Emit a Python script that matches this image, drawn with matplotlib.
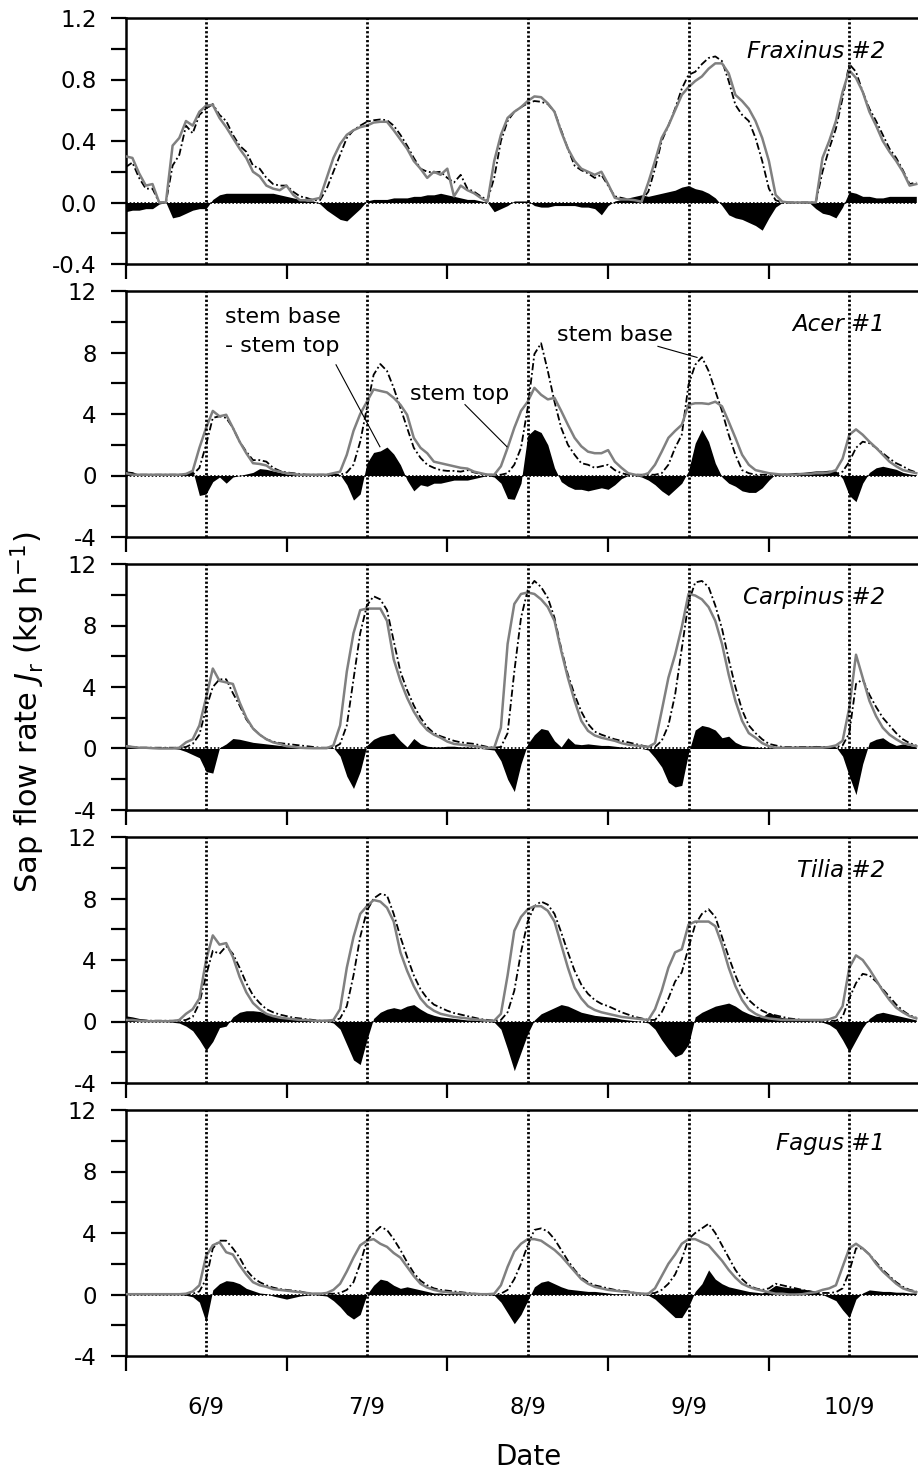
import numpy as np
import matplotlib
matplotlib.use("Agg")
import matplotlib.pyplot as plt
from matplotlib.ticker import FixedLocator, FormatStrFormatter

plt.rcParams["font.family"] = ["DejaVu Sans"]
plt.rcParams["axes.unicode_minus"] = False

# hourly readings, hour 0 = 6/9 00:00
hours = np.arange(119)
day_labels = ["6/9", "7/9", "8/9", "9/9", "10/9"]

frax_top = [
    0.30, 0.29, 0.19, 0.11, 0.12, 0.00, 0.00, 0.37, 0.42, 0.53, 0.50, 0.59,
    0.63, 0.635, 0.55, 0.49, 0.42, 0.35, 0.29, 0.20, 0.17, 0.11, 0.09, 0.08,
    0.11, 0.05, 0.015, 0.015, 0.02, 0.03, 0.16, 0.29, 0.38, 0.44, 0.47, 0.49,
    0.50, 0.52, 0.525, 0.525, 0.47, 0.41, 0.35, 0.27, 0.22, 0.16, 0.20, 0.18,
    0.22, 0.04, 0.11, 0.08, 0.06, 0.03, 0.005, 0.27, 0.44, 0.55, 0.59, 0.62,
    0.66, 0.69, 0.685, 0.645, 0.59, 0.46, 0.35, 0.27, 0.22, 0.20, 0.18, 0.20,
    0.12, 0.03, 0.02, 0.02, 0.015, 0.005, 0.13, 0.27, 0.42, 0.50, 0.60, 0.70,
    0.75, 0.79, 0.82, 0.87, 0.905, 0.905, 0.84, 0.70, 0.66, 0.61, 0.53, 0.42,
    0.27, 0.05, 0.005, 0.0, 0.0, 0.0, 0.0, 0.0, 0.29, 0.40, 0.53, 0.72,
    0.86, 0.81, 0.72, 0.59, 0.50, 0.40, 0.33, 0.27, 0.20, 0.11, 0.12,
]
frax_base = [
    0.23, 0.26, 0.16, 0.09, 0.09, 0.00, 0.00, 0.24, 0.31, 0.50, 0.45, 0.57,
    0.61, 0.64, 0.57, 0.53, 0.44, 0.37, 0.33, 0.24, 0.22, 0.16, 0.12, 0.11,
    0.11, 0.07, 0.04, 0.03, 0.015, 0.015, 0.09, 0.20, 0.31, 0.42, 0.47, 0.50,
    0.525, 0.535, 0.54, 0.535, 0.50, 0.44, 0.37, 0.29, 0.22, 0.20, 0.195, 0.20,
    0.16, 0.13, 0.18, 0.09, 0.07, 0.04, 0.015, 0.16, 0.40, 0.53, 0.59, 0.62,
    0.645, 0.66, 0.655, 0.64, 0.59, 0.47, 0.35, 0.24, 0.21, 0.19, 0.16, 0.18,
    0.11, 0.04, 0.03, 0.02, 0.015, 0.015, 0.07, 0.22, 0.40, 0.50, 0.61, 0.74,
    0.83, 0.85, 0.90, 0.94, 0.95, 0.92, 0.79, 0.635, 0.57, 0.53, 0.42, 0.27,
    0.09, 0.015, 0.0, 0.0, 0.0, 0.0, 0.0, 0.0, 0.20, 0.35, 0.48, 0.68,
    0.90, 0.85, 0.72, 0.61, 0.53, 0.44, 0.35, 0.29, 0.21, 0.12, 0.13,
]
frax_diff = [
    -0.06, -0.05, -0.05, -0.04, -0.04, -0.01, 0.0, -0.10, -0.09, -0.07, -0.05, -0.04,
    -0.04, 0.02, 0.05, 0.06, 0.06, 0.06, 0.06, 0.06, 0.06, 0.06, 0.06, 0.05,
    0.04, 0.03, 0.02, 0.01, 0.01, -0.01, -0.05, -0.08, -0.11, -0.12, -0.08, -0.04,
    0.01, 0.02, 0.02, 0.02, 0.03, 0.03, 0.03, 0.04, 0.04, 0.05, 0.05, 0.06,
    0.05, 0.04, 0.03, 0.02, 0.02, 0.01, 0.0, -0.06, -0.04, -0.02, 0.01, 0.01,
    0.01, -0.02, -0.03, -0.03, -0.02, -0.02, -0.02, -0.02, -0.03, -0.03, -0.04, -0.08,
    -0.02, 0.01, 0.02, 0.03, 0.04, 0.05, 0.04, 0.05, 0.06, 0.07, 0.08, 0.10,
    0.11, 0.09, 0.08, 0.06, 0.03, -0.02, -0.08, -0.10, -0.11, -0.13, -0.15, -0.18,
    -0.10, -0.03, 0.0, 0.0, 0.0, 0.0, 0.0, -0.04, -0.07, -0.08, -0.10, -0.03,
    0.07, 0.06, 0.04, 0.04, 0.03, 0.03, 0.04, 0.04, 0.04, 0.04, 0.04,
]

acer_top = [
    0.15, 0.05, 0.05, 0.05, 0.05, 0.05, 0.05, 0.05, 0.05, 0.10, 0.30, 1.80,
    3.10, 4.20, 3.85, 3.95, 3.10, 2.20, 1.45, 0.80, 0.75, 0.65, 0.35, 0.25,
    0.15, 0.10, 0.05, 0.05, 0.05, 0.05, 0.05, 0.15, 0.25, 1.35, 2.90, 4.00,
    4.80, 5.60, 5.50, 5.40, 5.05, 4.60, 3.95, 2.45, 1.80, 1.45, 0.90, 0.80,
    0.70, 0.60, 0.50, 0.45, 0.25, 0.15, 0.05, 0.05, 0.60, 1.80, 3.10, 4.20,
    4.80, 5.70, 5.25, 4.95, 5.05, 4.20, 3.30, 2.45, 1.90, 1.55, 1.45, 1.45,
    1.65, 0.90, 0.50, 0.15, 0.05, 0.00, 0.15, 0.70, 1.55, 2.45, 2.90, 3.30,
    4.60, 4.70, 4.70, 4.65, 4.80, 4.50, 3.50, 2.45, 1.35, 0.70, 0.35, 0.25,
    0.15, 0.10, 0.05, 0.05, 0.05, 0.10, 0.10, 0.15, 0.15, 0.20, 0.35, 1.10,
    2.65, 3.00, 2.65, 2.20, 1.80, 1.35, 0.90, 0.60, 0.35, 0.25, 0.15,
]
acer_base = [
    0.05, 0.05, 0.05, 0.05, 0.05, 0.05, 0.05, 0.05, 0.05, 0.05, 0.05, 0.50,
    2.00, 3.75, 3.85, 3.75, 3.10, 2.20, 1.55, 1.00, 1.00, 0.90, 0.50, 0.30,
    0.20, 0.15, 0.10, 0.05, 0.05, 0.05, 0.05, 0.05, 0.05, 0.20, 0.70, 2.20,
    4.40, 6.55, 7.25, 6.80, 5.70, 4.40, 3.10, 1.80, 1.15, 0.70, 0.50, 0.35,
    0.30, 0.30, 0.25, 0.35, 0.20, 0.10, 0.05, 0.05, 0.05, 0.15, 0.70, 1.80,
    4.40, 7.90, 8.60, 6.80, 4.80, 3.10, 2.00, 1.35, 0.80, 0.70, 0.50, 0.60,
    0.70, 0.35, 0.15, 0.05, 0.05, 0.05, 0.05, 0.05, 0.15, 0.70, 1.80, 2.65,
    5.90, 7.20, 7.70, 6.80, 5.50, 4.20, 2.65, 1.35, 0.35, 0.15, 0.05, 0.05,
    0.05, 0.05, 0.05, 0.05, 0.05, 0.05, 0.05, 0.05, 0.05, 0.05, 0.10, 0.25,
    0.90, 1.80, 2.20, 2.10, 1.80, 1.45, 1.10, 0.80, 0.60, 0.35, 0.20,
]
acer_diff = [
    0.30, 0.25, 0.05, 0.0, 0.0, 0.0, 0.02, 0.02, 0.05, 0.15, 0.35, -1.30,
    -1.20, -0.40, -0.10, -0.50, -0.10, 0.0, 0.10, 0.20, 0.45, 0.40, 0.30, 0.20,
    0.10, 0.05, 0.02, 0.02, 0.02, 0.02, 0.02, 0.20, 0.05, -0.60, -1.60, -1.20,
    0.80, 1.50, 1.60, 1.85, 1.40, 0.70, -0.30, -1.00, -0.60, -0.70, -0.50, -0.50,
    -0.40, -0.30, -0.30, -0.30, -0.20, -0.10, 0.0, -0.10, -0.50, -1.50, -1.55, -0.50,
    2.60, 3.00, 2.80, 2.00, 0.50, -0.40, -0.70, -0.90, -0.90, -1.00, -0.90, -0.80,
    -0.90, -0.60, -0.20, 0.0, 0.0, -0.10, -0.30, -0.60, -1.00, -1.30, -0.90, -0.50,
    0.30, 2.10, 3.00, 2.20, 0.80, -0.10, -0.50, -0.70, -1.00, -1.10, -1.10, -0.80,
    -0.30, 0.10, 0.15, 0.15, 0.20, 0.20, 0.25, 0.30, 0.30, 0.35, 0.30, -0.20,
    -1.30, -1.70, -0.50, 0.20, 0.50, 0.60, 0.50, 0.40, 0.20, 0.10, 0.05,
]

carp_top = [
    0.15, 0.10, 0.05, 0.05, 0.02, 0.0, 0.0, 0.0, 0.05, 0.40, 0.60, 1.50,
    3.30, 5.20, 4.40, 4.30, 4.20, 3.00, 2.00, 1.30, 0.90, 0.60, 0.40, 0.30,
    0.15, 0.10, 0.05, 0.03, 0.02, 0.02, 0.02, 0.20, 1.50, 5.00, 7.50, 9.00,
    9.10, 9.10, 9.10, 8.30, 5.80, 4.40, 3.30, 2.40, 1.70, 1.20, 0.90, 0.70,
    0.45, 0.30, 0.25, 0.20, 0.15, 0.10, 0.05, 0.05, 1.35, 6.80, 9.40, 10.05,
    10.15, 10.05, 9.70, 9.20, 8.30, 6.35, 4.60, 3.10, 1.80, 1.15, 0.85, 0.70,
    0.60, 0.50, 0.35, 0.25, 0.20, 0.15, 0.10, 0.35, 2.45, 4.60, 6.10, 7.90,
    10.05, 9.95, 9.70, 9.20, 8.30, 6.80, 4.80, 3.10, 1.80, 1.00, 0.70, 0.35,
    0.15, 0.05, 0.05, 0.05, 0.05, 0.05, 0.05, 0.05, 0.05, 0.10, 0.20, 0.50,
    2.65, 6.10, 4.60, 3.10, 2.10, 1.35, 0.90, 0.60, 0.35, 0.25, 0.15,
]
carp_base = [
    0.15, 0.10, 0.05, 0.05, 0.05, 0.05, 0.05, 0.05, 0.05, 0.10, 0.30, 0.90,
    2.60, 4.00, 4.50, 4.50, 3.60, 2.80, 1.90, 1.30, 0.90, 0.60, 0.45, 0.35,
    0.30, 0.25, 0.20, 0.15, 0.10, 0.05, 0.05, 0.05, 0.30, 1.50, 4.50, 7.50,
    9.30, 9.90, 9.70, 9.00, 7.00, 5.00, 3.80, 2.80, 2.00, 1.40, 1.00, 0.80,
    0.65, 0.50, 0.40, 0.35, 0.30, 0.20, 0.10, 0.05, 0.10, 1.00, 5.00, 8.50,
    10.30, 10.90, 10.50, 9.80, 8.50, 6.50, 4.80, 3.50, 2.40, 1.60, 1.10, 0.90,
    0.75, 0.60, 0.50, 0.40, 0.30, 0.20, 0.10, 0.10, 0.50, 1.50, 3.50, 6.50,
    9.50, 10.80, 10.90, 10.50, 9.30, 7.80, 5.80, 4.00, 2.50, 1.50, 1.00, 0.60,
    0.30, 0.20, 0.10, 0.10, 0.10, 0.10, 0.10, 0.10, 0.10, 0.10, 0.10, 0.20,
    1.00, 4.20, 4.50, 3.50, 2.70, 2.00, 1.50, 1.00, 0.60, 0.35, 0.20,
]
carp_diff = [
    0.20, 0.10, 0.05, 0.0, 0.0, 0.0, 0.0, 0.0, -0.05, -0.20, -0.40, -0.60,
    -1.50, -1.60, 0.05, 0.30, 0.65, 0.60, 0.50, 0.40, 0.35, 0.30, 0.25, 0.20,
    0.15, 0.10, 0.05, 0.05, 0.05, 0.05, 0.05, 0.05, -0.50, -1.80, -2.60, -1.50,
    0.20, 0.60, 0.80, 0.90, 1.00, 0.50, 0.10, 0.65, 0.30, 0.15, 0.10, 0.10,
    0.15, 0.15, 0.10, 0.10, 0.05, 0.0, -0.05, -0.10, -0.80, -2.00, -2.80, -1.00,
    0.30, 0.90, 1.30, 1.20, 0.50, 0.10, 0.70, 0.30, 0.25, 0.30, 0.25, 0.20,
    0.20, 0.15, 0.10, 0.05, 0.05, 0.0, -0.10, -0.60, -1.20, -2.20, -2.50, -2.40,
    -0.30, 1.20, 1.50, 1.40, 1.20, 0.70, 0.80, 0.40, 0.20, 0.15, 0.10, 0.05,
    0.05, 0.05, 0.05, 0.10, 0.15, 0.15, 0.15, 0.20, 0.15, 0.20, 0.10, -0.50,
    -1.80, -3.00, -1.00, 0.40, 0.60, 0.70, 0.40, 0.20, 0.30, 0.20, 0.10,
]

tilia_top = [
    0.10, 0.10, 0.05, 0.02, 0.02, 0.02, 0.02, 0.02, 0.10, 0.50, 0.80, 1.50,
    4.00, 5.60, 5.00, 5.10, 4.20, 2.90, 1.90, 1.20, 0.80, 0.50, 0.35, 0.25,
    0.20, 0.15, 0.10, 0.10, 0.05, 0.05, 0.05, 0.10, 0.80, 3.50, 5.50, 7.00,
    7.50, 7.90, 7.80, 7.40, 6.50, 4.50, 3.30, 2.30, 1.50, 1.00, 0.70, 0.50,
    0.40, 0.30, 0.25, 0.20, 0.15, 0.10, 0.05, 0.05, 0.50, 3.00, 5.90, 6.80,
    7.30, 7.50, 7.50, 7.20, 6.50, 5.00, 3.50, 2.20, 1.50, 1.00, 0.75, 0.60,
    0.50, 0.40, 0.30, 0.25, 0.20, 0.15, 0.10, 0.80, 2.00, 3.50, 4.50, 4.70,
    6.30, 6.50, 6.50, 6.50, 6.20, 5.00, 3.50, 2.30, 1.40, 0.80, 0.50, 0.30,
    0.20, 0.15, 0.10, 0.10, 0.10, 0.10, 0.10, 0.10, 0.10, 0.15, 0.30, 1.00,
    3.50, 4.30, 4.00, 3.40, 2.70, 2.00, 1.40, 0.90, 0.60, 0.35, 0.20,
]
tilia_base = [
    0.05, 0.05, 0.05, 0.05, 0.05, 0.05, 0.05, 0.05, 0.05, 0.10, 0.30, 1.20,
    3.00, 4.60, 4.40, 4.90, 4.40, 3.50, 2.50, 1.70, 1.20, 0.80, 0.60, 0.45,
    0.35, 0.25, 0.20, 0.15, 0.10, 0.05, 0.05, 0.05, 0.20, 1.00, 3.00, 5.50,
    7.20, 8.00, 8.30, 8.20, 7.00, 5.50, 4.20, 3.00, 2.10, 1.50, 1.10, 0.90,
    0.70, 0.55, 0.45, 0.35, 0.25, 0.15, 0.10, 0.05, 0.10, 0.60, 2.00, 4.50,
    6.50, 7.50, 7.80, 7.60, 7.00, 5.80, 4.50, 3.30, 2.40, 1.80, 1.40, 1.15,
    1.00, 0.80, 0.60, 0.45, 0.30, 0.20, 0.10, 0.10, 0.60, 1.50, 2.60, 3.20,
    4.80, 6.30, 7.00, 7.30, 6.80, 5.50, 4.20, 3.00, 2.00, 1.40, 1.00, 0.70,
    0.50, 0.40, 0.30, 0.20, 0.15, 0.10, 0.10, 0.05, 0.05, 0.05, 0.05, 0.30,
    1.50, 2.50, 3.10, 3.00, 2.60, 2.10, 1.60, 1.10, 0.70, 0.40, 0.25,
]
tilia_diff = [
    0.37, 0.30, 0.20, 0.15, 0.10, 0.05, 0.0, -0.05, -0.10, -0.30, -0.60, -1.20,
    -1.90, -1.30, -0.40, -0.30, 0.30, 0.60, 0.70, 0.70, 0.65, 0.50, 0.45, 0.35,
    0.25, 0.20, 0.15, 0.10, 0.05, 0.05, 0.02, -0.10, -0.50, -1.50, -2.50, -2.80,
    -1.20, 0.20, 0.60, 0.80, 0.90, 0.80, 1.00, 1.10, 0.80, 0.55, 0.40, 0.30,
    0.25, 0.20, 0.15, 0.10, 0.10, 0.05, 0.0, -0.05, -0.50, -1.80, -3.20, -2.00,
    -0.80, 0.10, 0.50, 0.70, 0.90, 1.10, 1.00, 0.80, 0.60, 0.50, 0.40, 0.35,
    0.30, 0.25, 0.15, 0.10, 0.05, 0.0, -0.10, -0.50, -1.20, -1.80, -2.30, -2.10,
    -1.50, 0.30, 0.60, 0.80, 1.00, 1.10, 1.20, 1.00, 0.70, 0.50, 0.35, 0.30,
    0.60, 0.40, 0.25, 0.20, 0.15, 0.10, 0.05, 0.02, -0.05, -0.20, -0.50, -1.20,
    -2.00, -1.20, -0.40, 0.20, 0.50, 0.60, 0.50, 0.40, 0.30, 0.20, 0.10,
]

fagus_top = [
    0.02, 0.02, 0.02, 0.02, 0.02, 0.02, 0.02, 0.02, 0.02, 0.05, 0.20, 0.60,
    2.50, 3.20, 3.40, 2.75, 2.60, 1.90, 1.30, 0.80, 0.60, 0.50, 0.35, 0.30,
    0.25, 0.20, 0.15, 0.10, 0.05, 0.05, 0.10, 0.30, 0.70, 1.50, 2.40, 3.20,
    3.50, 3.60, 3.30, 3.10, 2.70, 2.40, 1.80, 1.20, 0.70, 0.45, 0.30, 0.20,
    0.15, 0.10, 0.10, 0.05, 0.05, 0.02, 0.02, 0.05, 0.60, 1.80, 2.80, 3.30,
    3.60, 3.60, 3.50, 3.20, 2.90, 2.50, 2.00, 1.50, 1.00, 0.70, 0.50, 0.40,
    0.30, 0.25, 0.20, 0.15, 0.10, 0.05, 0.05, 0.40, 1.20, 2.00, 2.60, 3.30,
    3.60, 3.60, 3.40, 3.20, 2.70, 2.20, 1.60, 1.10, 0.70, 0.50, 0.35, 0.25,
    0.15, 0.05, 0.05, 0.0, 0.0, 0.02, 0.10, 0.15, 0.30, 0.40, 0.60, 1.80,
    3.00, 3.30, 3.00, 2.60, 2.00, 1.50, 1.10, 0.70, 0.40, 0.25, 0.15,
]
fagus_base = [
    0.02, 0.02, 0.02, 0.02, 0.02, 0.02, 0.02, 0.02, 0.02, 0.02, 0.05, 0.20,
    1.00, 3.00, 3.50, 3.50, 3.00, 2.40, 1.60, 1.10, 0.80, 0.60, 0.45, 0.35,
    0.30, 0.25, 0.20, 0.10, 0.05, 0.05, 0.05, 0.05, 0.10, 0.30, 0.80, 2.00,
    3.50, 4.00, 4.40, 4.20, 3.60, 2.90, 2.10, 1.40, 0.90, 0.60, 0.40, 0.30,
    0.25, 0.20, 0.15, 0.10, 0.05, 0.02, 0.02, 0.02, 0.05, 0.30, 1.00, 2.00,
    3.20, 4.20, 4.30, 4.10, 3.60, 2.90, 2.20, 1.60, 1.10, 0.80, 0.60, 0.50,
    0.40, 0.30, 0.25, 0.20, 0.10, 0.05, 0.05, 0.10, 0.30, 0.70, 1.30, 2.30,
    3.60, 4.00, 4.30, 4.60, 4.00, 3.20, 2.40, 1.60, 1.00, 0.60, 0.40, 0.30,
    0.40, 0.70, 0.60, 0.50, 0.40, 0.30, 0.20, 0.15, 0.10, 0.10, 0.15, 0.40,
    1.50, 3.00, 3.00, 2.60, 2.10, 1.60, 1.20, 0.80, 0.50, 0.30, 0.20,
]
fagus_diff = [
    0.0, 0.0, 0.0, 0.0, 0.0, 0.0, 0.0, 0.0, 0.0, -0.05, -0.15, -0.50,
    -1.80, 0.30, 0.70, 0.90, 0.85, 0.70, 0.40, 0.25, 0.10, 0.05, -0.10, -0.20,
    -0.30, -0.20, -0.10, -0.05, 0.0, -0.05, -0.10, -0.40, -0.80, -1.30, -1.60, -1.30,
    0.0, 0.60, 1.00, 0.90, 0.60, 0.40, 0.50, 0.40, 0.30, 0.20, 0.10, 0.10,
    0.05, 0.05, 0.05, 0.02, 0.0, 0.0, 0.0, -0.05, -0.50, -1.20, -1.90, -1.30,
    -0.40, 0.50, 0.80, 0.90, 0.70, 0.50, 0.35, 0.30, 0.25, 0.20, 0.20, 0.15,
    0.10, 0.05, 0.05, 0.0, 0.0, 0.0, -0.05, -0.30, -0.70, -1.10, -1.50, -1.50,
    -0.80, 0.20, 0.70, 1.60, 1.00, 0.70, 0.50, 0.40, 0.30, 0.20, 0.15, 0.10,
    0.30, 0.60, 0.50, 0.45, 0.40, 0.35, 0.30, 0.20, 0.0, -0.20, -0.40, -1.00,
    -1.50, -0.30, 0.10, 0.30, 0.25, 0.20, 0.20, 0.15, 0.15, 0.10, 0.10,
]

trees = ["Fraxinus", "Acer", "Carpinus", "Tilia", "Fagus"]
tree_ids = ["#2", "#1", "#2", "#2", "#1"]
tops = [frax_top, acer_top, carp_top, tilia_top, fagus_top]
bases = [frax_base, acer_base, carp_base, tilia_base, fagus_base]
diffs = [frax_diff, acer_diff, carp_diff, tilia_diff, fagus_diff]

W, H = 918, 1473
fig = plt.figure(figsize=(W / 100, H / 100), dpi=100)
t = hours / 24.0
left = 125.7 / W

axes = []
for i in range(5):
    top_px = 18 + 273 * i
    bot_px = 264 + 273 * i
    ax = fig.add_axes([left, 1 - bot_px / H, 1 - left, (bot_px - top_px) / H])
    axes.append(ax)

    ax.fill_between(t, diffs[i], 0, color="black", lw=0, zorder=2)
    ax.axhline(0, color="black", lw=1.2, ls=(0, (1, 1.2)), zorder=3)
    ax.plot(t, bases[i], color="black", lw=1.3, ls=(0, (4, 1.5, 1, 1.5)), zorder=4)
    ax.plot(t, tops[i], color="#808080", lw=1.8, zorder=5)
    for d in range(5):
        ax.axvline(d + 0.5, color="black", lw=2.0, ls=(0, (0.8, 0.8)), zorder=6)

    ax.set_xlim(0, (W - 125.7) / 160.8)
    if i == 0:
        ax.set_ylim(-0.4, 1.2)
        ax.yaxis.set_major_locator(FixedLocator([-0.4, 0.0, 0.4, 0.8, 1.2]))
        ax.yaxis.set_minor_locator(FixedLocator([-0.2, 0.2, 0.6, 1.0]))
        ax.yaxis.set_major_formatter(FormatStrFormatter("%.1f"))
    else:
        ax.set_ylim(-4, 12)
        ax.yaxis.set_major_locator(FixedLocator([-4, 0, 4, 8, 12]))
        ax.yaxis.set_minor_locator(FixedLocator([-2, 2, 6, 10]))
        ax.yaxis.set_major_formatter(FormatStrFormatter("%d"))

    ax.xaxis.set_major_locator(FixedLocator([d + 0.5 for d in range(5)]))
    ax.xaxis.set_minor_locator(FixedLocator(range(6)))
    ax.tick_params(axis="x", which="major", length=0, pad=29, labelsize=16.5)
    ax.tick_params(axis="x", which="minor", length=11, width=1.6, direction="out")
    if i < 4:
        ax.set_xticklabels([])
    else:
        ax.set_xticklabels(day_labels)
    ax.tick_params(axis="y", which="both", length=11, width=1.6, direction="out",
                   pad=10, labelsize=16.5)

    for side in ["left", "bottom", "top"]:
        ax.spines[side].set_linewidth(1.8)
    ax.spines["right"].set_visible(False)

    ax.text(0.958, 0.837, trees[i] + " " + tree_ids[i], transform=ax.transAxes,
            ha="right", va="baseline", fontsize=16.5, style="italic", zorder=7)

# labels in the Acer panel
ax = axes[1]
ax.text(0.617, 9.94, "stem base", fontsize=16, va="baseline", ha="left")
ax.text(0.617, 8.05, "- stem top", fontsize=16, va="baseline", ha="left")
ax.plot([1.308, 1.581], [7.2, 1.87], color="black", lw=0.8, zorder=7)
ax.text(1.768, 4.94, "stem top", fontsize=16, va="baseline", ha="left", zorder=7)
ax.plot([2.110, 2.371], [4.61, 1.87], color="black", lw=0.8, zorder=7)
ax.text(2.682, 8.72, "stem base", fontsize=16, va="baseline", ha="left")
ax.plot([3.310, 3.553], [8.4, 7.68], color="black", lw=0.8, zorder=7)

fig.text(28 / W, 1 - 712 / H, r"Sap flow rate $J_\mathrm{r}$ (kg h$^{-1}$)",
         rotation=90, ha="center", va="center", fontsize=22)
fig.text(528 / W, 1 - 1457 / H, "Date", ha="center", va="center", fontsize=20)

fig.savefig("out.png", dpi=100)
